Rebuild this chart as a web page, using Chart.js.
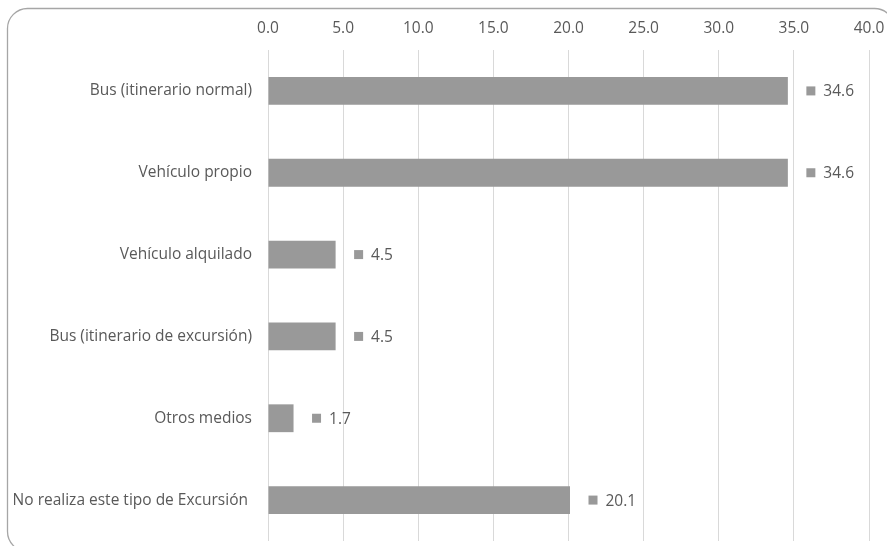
<!DOCTYPE html>
<html>
<head>
<meta charset="utf-8">
<script src="https://cdn.jsdelivr.net/npm/chart.js@4.4.1/dist/chart.umd.min.js"></script>
<style>
  html, body { margin: 0; padding: 0; background: #ffffff; overflow: hidden; }
  #wrap { width: 887px; height: 546px; position: relative; overflow: hidden; }
</style>
</head>
<body>
<div id="wrap"><canvas id="chart" width="887" height="546"></canvas></div>
<script>
// Medio de transporte utilizado para la excursión (%)
const categories = [
  'Bus (itinerario normal)',
  'Vehículo propio',
  'Vehículo alquilado',
  'Bus (itinerario de excursión)',
  'Otros medios',
  'No realiza este tipo de Excursión '
];
const shares = [34.6, 34.6, 4.5, 4.5, 1.7, 20.1];
const axisMin = 0;
const axisMax = 40;
const axisStep = 5;

const TEXT = '#595959';
const BAR = '#999999';
const GRID = '#d9d9d9';
const FONT = '"Open Sans", sans-serif';
const FONT_SIZE = 15.5;

// Rounded frame around the whole chart
const framePlugin = {
  id: 'frame',
  beforeDraw(chart) {
    const ctx = chart.ctx;
    ctx.save();
    ctx.fillStyle = '#ffffff';
    ctx.fillRect(0, 0, chart.width, chart.height);
    ctx.strokeStyle = '#a6a6a6';
    ctx.lineWidth = 1.3;
    ctx.beginPath();
    ctx.roundRect(7.5, 8.5, 887, 543, 20);
    ctx.stroke();
    ctx.restore();
  }
};

// Value labels with a small legend square after each bar
const valueLabels = {
  id: 'valueLabels',
  afterDatasetsDraw(chart) {
    const ctx = chart.ctx;
    const meta = chart.getDatasetMeta(0);
    const xs = chart.scales.x;
    ctx.save();
    ctx.font = FONT_SIZE + 'px ' + FONT;
    ctx.textBaseline = 'middle';
    ctx.textAlign = 'left';
    meta.data.forEach((bar, i) => {
      const v = shares[i];
      const end = xs.getPixelForValue(v);
      const y = bar.y;
      const sq = 9;
      const sx = end + 18.5;
      ctx.fillStyle = BAR;
      ctx.fillRect(sx, y - sq / 2, sq, sq);
      ctx.fillStyle = TEXT;
      ctx.fillText(v.toFixed(1), sx + sq + 8, y + 1);
    });
    ctx.restore();
  }
};

new Chart(document.getElementById('chart'), {
  type: 'bar',
  data: {
    labels: categories,
    datasets: [{
      data: shares,
      backgroundColor: BAR,
      borderWidth: 0,
      barPercentage: 0.34,
      categoryPercentage: 1.0
    }]
  },
  options: {
    indexAxis: 'y',
    responsive: false,
    animation: false,
    devicePixelRatio: 1,
    layout: { padding: { left: 10, right: 18, top: 14, bottom: 5 } },
    plugins: {
      legend: { display: false },
      tooltip: { enabled: false }
    },
    scales: {
      x: {
        position: 'top',
        min: axisMin,
        max: axisMax,
        afterFit(scale) {
          scale.height = 36;
          scale.paddingLeft = 0;
          scale.paddingRight = 0;
        },
        ticks: {
          stepSize: axisStep,
          color: TEXT,
          font: { family: FONT, size: FONT_SIZE },
          padding: 12,
          callback: (v) => Number(v).toFixed(1)
        },
        grid: { color: GRID, lineWidth: 1, drawTicks: false },
        border: { display: false }
      },
      y: {
        afterFit(scale) {
          scale.width = 258;
          scale.paddingTop = 0;
          scale.paddingBottom = 0;
        },
        ticks: {
          color: TEXT,
          font: { family: FONT, size: FONT_SIZE },
          padding: 16
        },
        grid: { display: false, drawTicks: false },
        border: { display: false }
      }
    }
  },
  plugins: [framePlugin, valueLabels]
});
</script>
</body>
</html>
